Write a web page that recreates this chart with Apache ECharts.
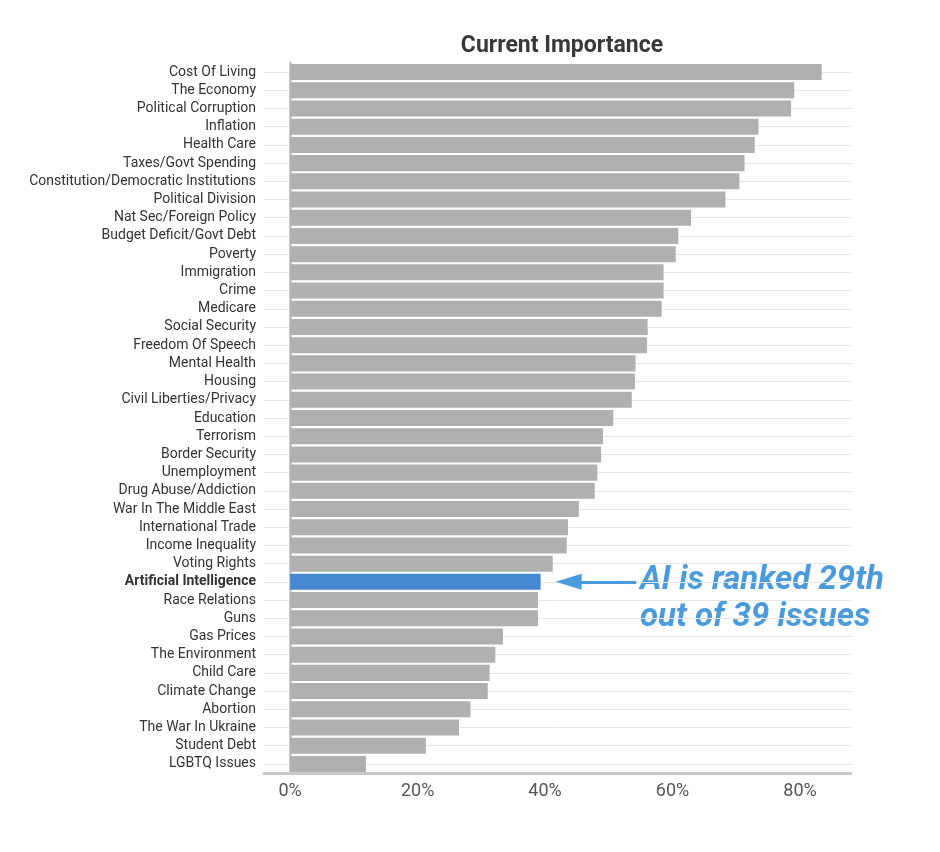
<!DOCTYPE html>
<html>
<head>
<meta charset="utf-8">
<script src="https://cdn.jsdelivr.net/npm/echarts@6/dist/echarts.min.js"></script>
<style>
  html, body { margin: 0; padding: 0; background: #fff; }
  #chart { width: 940px; height: 852px; }
</style>
</head>
<body>
<div id="chart"></div>
<script>
// issues, top to bottom
const issues = [
  'Cost Of Living', 'The Economy', 'Political Corruption', 'Inflation', 'Health Care',
  'Taxes/Govt Spending', 'Constitution/Democratic Institutions', 'Political Division',
  'Nat Sec/Foreign Policy', 'Budget Deficit/Govt Debt', 'Poverty', 'Immigration', 'Crime',
  'Medicare', 'Social Security', 'Freedom Of Speech', 'Mental Health', 'Housing',
  'Civil Liberties/Privacy', 'Education', 'Terrorism', 'Border Security', 'Unemployment',
  'Drug Abuse/Addiction', 'War In The Middle East', 'International Trade', 'Income Inequality',
  'Voting Rights', 'Artificial Intelligence', 'Race Relations', 'Guns', 'Gas Prices',
  'The Environment', 'Child Care', 'Climate Change', 'Abortion', 'The War In Ukraine',
  'Student Debt', 'LGBTQ Issues'
];

// share rating the issue important (%)
const importance = [
  83.4, 79.1, 78.6, 73.5, 72.9,
  71.3, 70.5, 68.3,
  62.9, 60.9, 60.5, 58.6, 58.6,
  58.3, 56.1, 56.0, 54.2, 54.1,
  53.6, 50.7, 49.1, 48.8, 48.2,
  47.8, 45.3, 43.6, 43.4,
  41.2, 39.3, 38.9, 38.9, 33.4,
  32.2, 31.3, 31.0, 28.3, 26.5,
  21.3, 11.9
];

const xTicks = [0, 20, 40, 60, 80];
const highlight = 'Artificial Intelligence';
const noteLines = ['AI is ranked 29th', 'out of 39 issues'];

const GREY = '#b0b0b0';
const BLUE = '#4689d0';
const NOTE = '#4a9bdc';

const chart = echarts.init(document.getElementById('chart'), null, { renderer: 'canvas' });

chart.setOption({
  animation: false,
  title: {
    text: 'Current Importance',
    left: 557,
    top: 30,
    textAlign: 'center',
    textStyle: { fontFamily: 'Roboto', fontSize: 23, fontWeight: 'bold', color: '#383838' }
  },
  grid: { left: 264, right: 89, top: 63, bottom: 79 },
  xAxis: {
    type: 'value',
    min: -4.1,
    max: 88,
    axisLine: { show: true, lineStyle: { color: '#c8c8c8', width: 3 } },
    axisTick: { show: false },
    splitLine: { show: false },
    axisLabel: {
      customValues: xTicks,
      formatter: '{value}%',
      fontFamily: 'Roboto',
      fontSize: 18,
      color: '#555',
      margin: 9
    }
  },
  yAxis: {
    type: 'category',
    inverse: true,
    data: issues,
    axisLine: { show: true, lineStyle: { color: '#c8c8c8', width: 3 } },
    axisTick: { show: false },
    splitLine: { show: true, alignWithLabel: true, lineStyle: { color: '#e6e6e6', width: 1 } },
    axisLabel: {
      interval: 0,
      margin: 8,
      fontFamily: 'Roboto',
      fontSize: 14,
      color: '#333',
      formatter: v => v === highlight ? '{b|' + v + '}' : v,
      rich: { b: { fontFamily: 'Roboto', fontSize: 14, fontWeight: 'bold', color: '#333' } }
    }
  },
  series: [{
    type: 'bar',
    barCategoryGap: '12%',
    data: importance.map((v, i) => ({
      value: v,
      itemStyle: { color: issues[i] === highlight ? BLUE : GREY }
    })),
    markLine: {
      silent: true,
      symbol: ['none', 'triangle'],
      symbolSize: [16, 26],
      label: { show: false },
      lineStyle: { color: NOTE, width: 3, type: 'solid' },
      data: [[
        { coord: [54.3, highlight], symbol: 'none' },
        { coord: [43.7, highlight], symbol: 'triangle' }
      ]]
    }
  }],
  graphic: [{
    type: 'text',
    left: 640,
    top: 562,
    style: {
      text: noteLines.join('\n'),
      fontFamily: 'Roboto',
      fontSize: 33,
      fontWeight: 'bold',
      fontStyle: 'italic',
      lineHeight: 37,
      fill: NOTE
    }
  }]
});
</script>
</body>
</html>
